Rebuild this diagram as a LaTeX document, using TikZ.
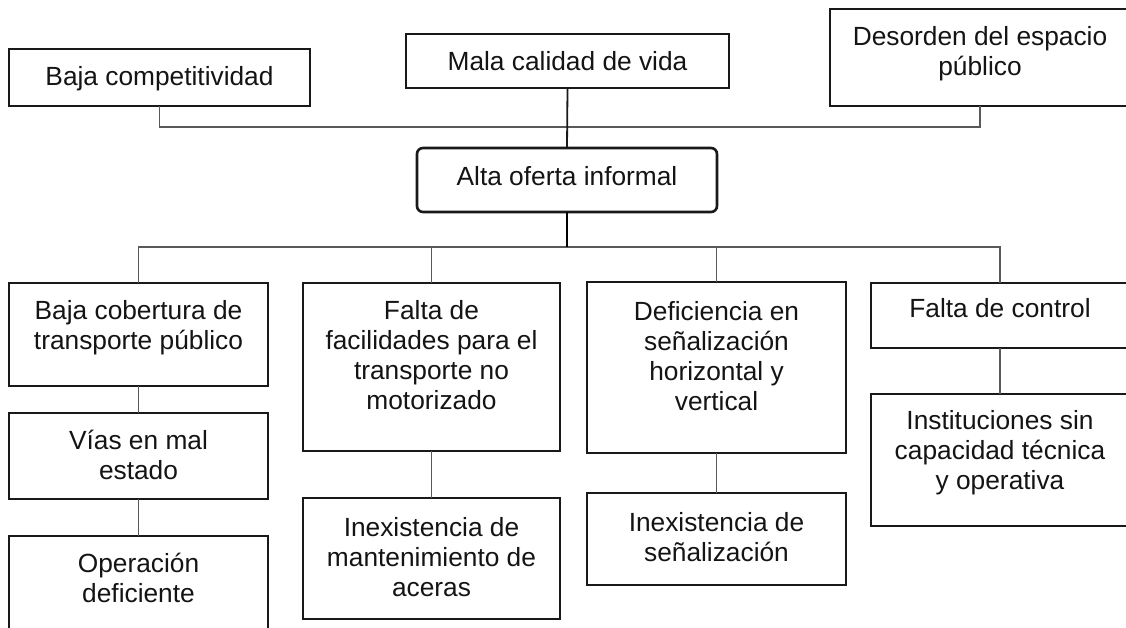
\documentclass[tikz,border=0pt]{standalone}
\usepackage{fontspec}
\setmainfont{Liberation Sans}
\usetikzlibrary{calc}
\newcommand{\bt}[4]{\begin{minipage}[c][#2pt][t]{#1pt}\centering\rule{0pt}{#3pt}#4\end{minipage}}
\begin{document}
\begin{tikzpicture}[x=1pt,y=-1pt,
  box/.style={draw=black!90, line width=2.6pt, inner sep=0pt, outer sep=0pt, anchor=north west,
    text=black!92, font=\fontsize{26.3}{30}\selectfont},
  conn/.style={draw=black!65, line width=1.4pt},
  strong/.style={draw=black!90, line width=1.8pt},
  stronger/.style={draw=black, line width=2.4pt}]
\useasboundingbox (0,0) rectangle (1126,628);
\fill[white] (0,0) rectangle (1126,628);
\clip (0,0) rectangle (1126,628);
% top row
\node[box] (bcomp) at (9,49) {\bt{301}{57}{37}{Baja competitividad}};
\node[box] (mala) at (406,34) {\bt{323}{54}{37}{Mala calidad de vida}};
\node[box] (des) at (830,9) {\bt{300}{97}{37}{Desorden del espacio\\público}};
\node[box, rounded corners=6pt] (alta) at (417,148) {\bt{300}{64}{38}{Alta oferta informal}};
% second row
\node[box] (cob) at (9,283) {\bt{259}{103}{36}{Baja cobertura de\\transporte público}};
\node[box] (fac) at (303,283) {\bt{257}{168}{36}{Falta de\\facilidades para el\\transporte no\\motorizado}};
\node[box] (def) at (587,282) {\bt{259}{171}{38}{Deficiencia en\\señalización\\horizontal y\\vertical}};
\node[box] (ctrl) at (871,283) {\bt{258}{65}{34}{Falta de control}};
% lower rows
\node[box] (vias) at (9,413) {\bt{259}{86}{36}{Vías en mal\\estado}};
\node[box] (oper) at (9,536) {\bt{259}{100}{36}{Operación\\deficiente}};
\node[box] (mant) at (303,498) {\bt{257}{121}{38}{Inexistencia de\\mantenimiento de\\aceras}};
\node[box] (senal) at (587,493) {\bt{259}{92}{38}{Inexistencia de\\señalización}};
\node[box] (inst) at (871,394) {\bt{258}{132}{35}{Instituciones sin\\capacidad técnica\\y operativa}};
% connectors top
\draw[conn] (bcomp.south) -- ++(0,21) coordinate (tbus) -| (des.south);
\draw[strong] (mala.south) -- (alta.north);
% connectors middle
\coordinate (bus) at ($(alta.south)+(0,35)$);
\draw[conn] (cob.north) -- (cob.north |- bus) -- (ctrl.north |- bus) -- (ctrl.north);
\draw[conn] (fac.north) -- (fac.north |- bus);
\draw[conn] (def.north) -- (def.north |- bus);
\draw[stronger] (alta.south) -- (bus);
% connectors lower
\draw[conn] (cob.south) -- (vias.north);
\draw[conn] (vias.south) -- (oper.north);
\draw[conn] (fac.south) -- (mant.north);
\draw[conn] (def.south) -- (senal.north);
\draw[conn] (ctrl.south) -- (inst.north);
\end{tikzpicture}
\end{document}
